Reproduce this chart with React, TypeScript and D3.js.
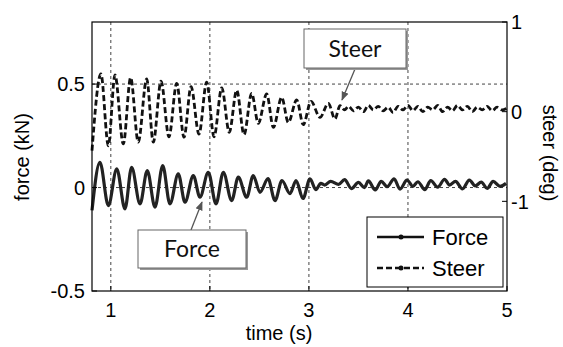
import React, { useEffect, useRef } from "react";
import * as d3 from "d3";

// time (s) and force (kN), read at the peaks and troughs
const forceTime = [
  0.81, 0.89, 0.975, 1.06, 1.143, 1.21, 1.295, 1.368, 1.446, 1.524, 1.597, 1.681, 1.749,
  1.833, 1.9, 1.984, 2.062, 2.136, 2.22, 2.287, 2.372, 2.438, 2.506, 2.587, 2.658, 2.728,
  2.809, 2.87, 2.94, 3.011, 3.07, 3.12, 3.16, 3.22, 3.3, 3.36, 3.43, 3.5, 3.56, 3.6,
  3.67, 3.73, 3.79, 3.86, 3.92, 3.99, 4.05, 4.1, 4.17, 4.23, 4.3, 4.37, 4.42, 4.48,
  4.55, 4.62, 4.68, 4.74, 4.8, 4.86, 4.93, 4.99,
];
const forceValue = [
  -0.11, 0.122, -0.087, 0.09, -0.103, 0.098, -0.079, 0.082, -0.095, 0.106, -0.079, 0.066,
  -0.071, 0.058, -0.047, 0.074, -0.079, 0.074, -0.063, 0.05, -0.047, 0.058, -0.023, 0.043,
  -0.063, 0.034, -0.029, 0.034, -0.053, 0.042, -0.01, 0.02, 0.012, 0.03, 0.015, 0.038,
  -0.005, 0.025, 0.0, 0.032, -0.012, 0.03, 0.004, 0.042, -0.008, 0.036, 0.006, 0.028,
  -0.01, 0.034, 0.002, 0.04, 0.012, 0.03, -0.006, 0.036, 0.008, 0.026, -0.004, 0.03,
  0.006, 0.02,
];

// time (s) and steer (deg)
const steerTime = [
  0.81, 0.9, 0.975, 1.042, 1.126, 1.2, 1.277, 1.362, 1.429, 1.507, 1.587, 1.665, 1.739,
  1.81, 1.89, 1.968, 2.042, 2.12, 2.196, 2.271, 2.345, 2.422, 2.489, 2.574, 2.641, 2.725,
  2.792, 2.877, 2.943, 3.021, 3.112, 3.196, 3.263, 3.314, 3.36, 3.4, 3.45, 3.5, 3.55, 3.6,
  3.65, 3.7, 3.75, 3.8, 3.85, 3.9, 3.95, 4.0, 4.05, 4.1, 4.15, 4.2, 4.25, 4.3, 4.35, 4.4,
  4.45, 4.5, 4.55, 4.6, 4.65, 4.7, 4.75, 4.8, 4.85, 4.9, 4.95, 5.0,
];
const steerValue = [
  -0.435, 0.42, -0.38, 0.41, -0.36, 0.38, -0.34, 0.365, -0.34, 0.34, -0.28, 0.315, -0.285,
  0.28, -0.25, 0.33, -0.28, 0.265, -0.23, 0.24, -0.256, 0.204, -0.13, 0.197, -0.175, 0.16,
  -0.12, 0.13, -0.145, 0.115, -0.064, 0.093, -0.081, 0.067, 0.02, 0.06, 0.01, 0.05, 0.0,
  0.07, 0.02, 0.06, 0.01, 0.05, -0.01, 0.06, 0.02, 0.07, 0.01, 0.06, 0.0, 0.05, 0.02, 0.07,
  0.0, 0.05, 0.01, 0.07, 0.02, 0.06, 0.0, 0.05, 0.02, 0.06, 0.01, 0.05, 0.02, 0.04,
];

const timeTicks = [1, 2, 3, 4, 5];
const forceTicks = [-0.5, 0, 0.5];
const steerTicks = [-1, 0, 1];
const seriesNames = ["Force", "Steer"];

const W = 563;
const H = 347;
const font = "'Liberation Sans', Arial, sans-serif";

const App = () => {
  const ref = useRef(null);

  useEffect(() => {
    const svg = d3.select(ref.current);
    svg.selectAll("*").remove();

    const x = d3.scaleLinear().domain([0.81, 5]).range([92, 507]);
    const yF = d3.scaleLinear().domain([-0.5, 0.8]).range([291, 22]);
    const yS = d3.scaleLinear().domain([-2, 1]).range([291, 22]);
    const [x0, x1] = x.range();
    const [y0, y1] = yF.range();

    svg.append("defs")
      .append("marker")
      .attr("id", "arr")
      .attr("viewBox", "0 0 10 10")
      .attr("refX", 9)
      .attr("refY", 5)
      .attr("markerWidth", 7)
      .attr("markerHeight", 7)
      .attr("orient", "auto")
      .append("path")
      .attr("d", "M0,1 L10,5 L0,9 z")
      .attr("fill", "#555");

    // grid
    const grid = svg.append("g").attr("stroke", "#444").attr("stroke-width", 1).attr("stroke-dasharray", "3,3");
    grid.selectAll(".gx")
      .data(timeTicks.filter((d) => d < 5))
      .enter()
      .append("line")
      .attr("x1", (d) => x(d)).attr("x2", (d) => x(d))
      .attr("y1", y1).attr("y2", y0);
    grid.selectAll(".gy")
      .data([0, 0.5])
      .enter()
      .append("line")
      .attr("x1", x0).attr("x2", x1)
      .attr("y1", (d) => yF(d)).attr("y2", (d) => yF(d));

    // series
    const forceLine = d3.line().x((d) => x(d[0])).y((d) => yF(d[1])).curve(d3.curveMonotoneX);
    const steerLine = d3.line().x((d) => x(d[0])).y((d) => yS(d[1])).curve(d3.curveMonotoneX);

    svg.append("path")
      .attr("d", steerLine(d3.zip(steerTime, steerValue)))
      .attr("fill", "none")
      .attr("stroke", "#111")
      .attr("stroke-width", 2.8)
      .attr("stroke-dasharray", "6,3");

    svg.append("path")
      .attr("d", forceLine(d3.zip(forceTime, forceValue)))
      .attr("fill", "none")
      .attr("stroke", "#222")
      .attr("stroke-width", 3.2)
      .attr("stroke-linejoin", "round");

    // frame and ticks
    svg.append("rect")
      .attr("x", x0).attr("y", y1)
      .attr("width", x1 - x0).attr("height", y0 - y1)
      .attr("fill", "none").attr("stroke", "#000").attr("stroke-width", 1.2);

    const tk = svg.append("g").attr("stroke", "#000").attr("stroke-width", 1);
    timeTicks.forEach((t) => {
      tk.append("line").attr("x1", x(t)).attr("x2", x(t)).attr("y1", y0).attr("y2", y0 - 5);
    });
    forceTicks.forEach((v) => {
      tk.append("line").attr("x1", x0).attr("x2", x0 + 5).attr("y1", yF(v)).attr("y2", yF(v));
    });
    steerTicks.forEach((v) => {
      tk.append("line").attr("x1", x1).attr("x2", x1 - 5).attr("y1", yS(v)).attr("y2", yS(v));
    });

    const lbl = svg.append("g").attr("font-family", font).attr("font-size", 20).attr("fill", "#000");
    timeTicks.forEach((t) => {
      lbl.append("text").attr("x", x(t)).attr("y", 317).attr("text-anchor", "middle").text(t);
    });
    forceTicks.forEach((v) => {
      lbl.append("text").attr("x", 85).attr("y", yF(v)).attr("dy", "0.36em")
        .attr("text-anchor", "end").text(v);
    });
    steerTicks.forEach((v) => {
      lbl.append("text").attr("x", 511).attr("y", yS(v)).attr("dy", "0.36em").text(v);
    });

    lbl.append("text").attr("x", 279).attr("y", 340).attr("text-anchor", "middle").text("time (s)");
    lbl.append("text")
      .attr("transform", "translate(29,157) rotate(-90)")
      .attr("text-anchor", "middle").text("force (kN)");
    lbl.append("text")
      .attr("transform", "translate(543,153) rotate(90)")
      .attr("text-anchor", "middle").text("steer (deg)");

    // legend
    const lg = svg.append("g");
    lg.append("rect")
      .attr("x", 367).attr("y", 217).attr("width", 136).attr("height", 70)
      .attr("fill", "#fff").attr("stroke", "#000").attr("stroke-width", 1);
    seriesNames.forEach((name, i) => {
      const yy = 237 + i * 31;
      lg.append("line")
        .attr("x1", 377).attr("x2", 424).attr("y1", yy).attr("y2", yy)
        .attr("stroke", "#111").attr("stroke-width", 2.6)
        .attr("stroke-dasharray", i === 1 ? "6,3" : null);
      lg.append("circle").attr("cx", 401).attr("cy", yy).attr("r", 2.5).attr("fill", "#111");
      lg.append("text")
        .attr("x", 432).attr("y", yy).attr("dy", "0.36em")
        .attr("font-family", font).attr("font-size", 22).text(name);
    });

    // callouts
    const callouts = [
      { name: "Steer", bx: 304, by: 29, bw: 102, bh: 39, from: [355, 69], to: [342, 100] },
      { name: "Force", bx: 138, by: 230, bw: 108, bh: 38, from: [191, 230], to: [202, 202] },
    ];
    callouts.forEach((c) => {
      svg.append("line")
        .attr("x1", c.from[0]).attr("y1", c.from[1])
        .attr("x2", c.to[0]).attr("y2", c.to[1])
        .attr("stroke", "#555").attr("stroke-width", 1.3)
        .attr("marker-end", "url(#arr)");
      svg.append("rect")
        .attr("x", c.bx + 2).attr("y", c.by + 2).attr("width", c.bw).attr("height", c.bh)
        .attr("fill", "#999");
      svg.append("rect")
        .attr("x", c.bx).attr("y", c.by).attr("width", c.bw).attr("height", c.bh)
        .attr("fill", "#fff").attr("stroke", "#666").attr("stroke-width", 1);
      svg.append("text")
        .attr("x", c.bx + c.bw / 2).attr("y", c.by + c.bh / 2).attr("dy", "0.36em")
        .attr("text-anchor", "middle")
        .attr("font-family", "Lato, 'Open Sans', sans-serif").attr("font-size", 23)
        .attr("fill", "#111").text(c.name);
    });
  }, []);

  return (
    <svg ref={ref} width={W} height={H} style={{ position: "absolute", left: 0, top: 0, background: "#fff" }} />
  );
};

export default App;
